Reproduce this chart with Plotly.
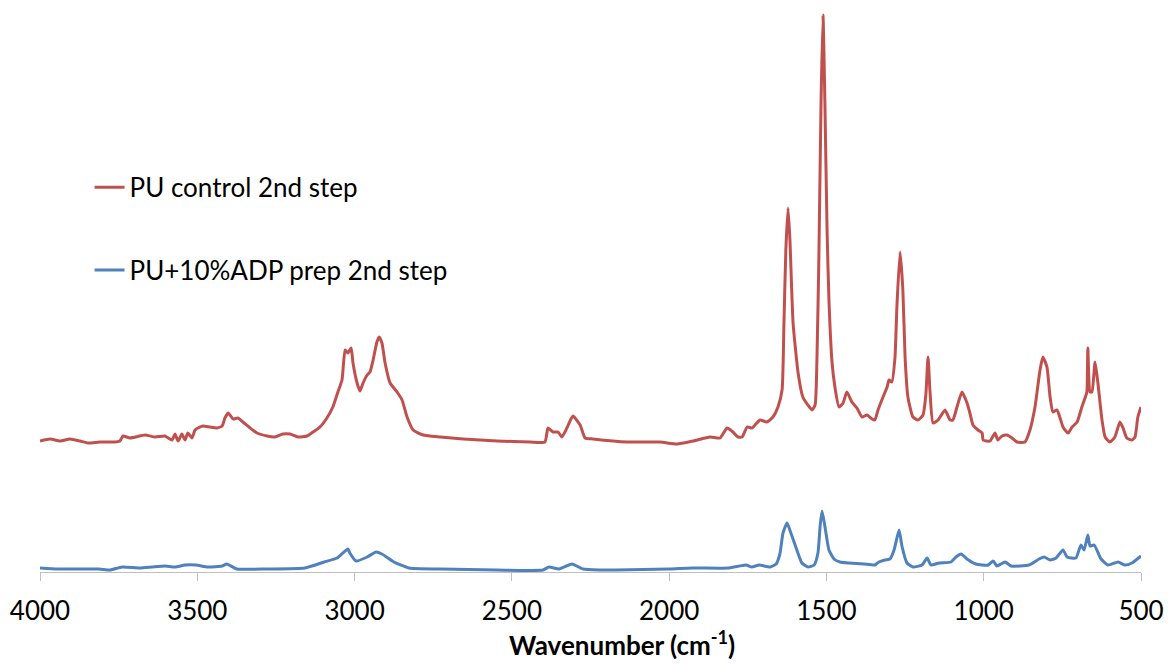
import plotly.graph_objects as go

# Wavenumber (cm-1) and absorbance
red_wn = [4000, 3968, 3936, 3905, 3873, 3847, 3809, 3762, 3746, 3736, 3714, 3666, 3634, 3603,
          3580, 3571, 3561, 3549, 3539, 3530, 3517, 3507, 3498, 3482, 3460, 3437, 3421, 3412,
          3402, 3386, 3371, 3355, 3332, 3310, 3278, 3253, 3228, 3205, 3180, 3151, 3132, 3110,
          3088, 3069, 3053, 3040, 3030, 3021, 3011, 3005, 2992, 2983, 2973, 2960, 2951, 2941,
          2929, 2922, 2913, 2903, 2887, 2865, 2849, 2833, 2814, 2782, 2728, 2655, 2547, 2442,
          2395, 2385, 2369, 2353, 2341, 2325, 2306, 2283, 2267, 2242, 2134, 2029, 1975, 1924,
          1870, 1838, 1816, 1797, 1781, 1768, 1752, 1737, 1727, 1711, 1689, 1670, 1654, 1641,
          1635, 1629, 1622, 1616, 1606, 1590, 1575, 1559, 1546, 1536, 1530, 1524, 1517, 1511,
          1505, 1498, 1492, 1482, 1473, 1460, 1447, 1435, 1419, 1403, 1387, 1371, 1355, 1346,
          1336, 1320, 1307, 1301, 1292, 1282, 1276, 1266, 1257, 1250, 1241, 1225, 1209, 1193,
          1184, 1177, 1171, 1161, 1145, 1123, 1107, 1098, 1085, 1069, 1053, 1044, 1034, 1018,
          1005, 1002, 980, 964, 955, 942, 926, 910, 894, 869, 853, 837, 821, 812, 799, 789,
          780, 767, 748, 732, 719, 703, 688, 678, 672, 669, 662, 656, 646, 637, 624, 614, 599,
          583, 567, 557, 545, 529, 519, 510, 500]
red_abs = [1.31, 1.33, 1.31, 1.33, 1.31, 1.29, 1.30, 1.30, 1.31, 1.36, 1.34, 1.37, 1.35, 1.36,
           1.32, 1.38, 1.31, 1.38, 1.32, 1.39, 1.34, 1.42, 1.44, 1.46, 1.45, 1.44, 1.46, 1.54,
           1.59, 1.53, 1.54, 1.50, 1.44, 1.39, 1.36, 1.35, 1.38, 1.38, 1.35, 1.36, 1.40, 1.45,
           1.54, 1.65, 1.80, 1.92, 2.22, 2.19, 2.24, 2.09, 1.89, 1.81, 1.89, 1.97, 2.00, 2.12,
           2.30, 2.35, 2.29, 2.09, 1.89, 1.80, 1.72, 1.55, 1.42, 1.37, 1.35, 1.33, 1.31, 1.30,
           1.30, 1.44, 1.40, 1.40, 1.35, 1.44, 1.56, 1.47, 1.34, 1.33, 1.30, 1.30, 1.28, 1.31,
           1.35, 1.34, 1.44, 1.40, 1.35, 1.35, 1.45, 1.44, 1.47, 1.52, 1.50, 1.55, 1.65, 1.82,
           2.49, 3.22, 3.64, 3.32, 2.49, 1.99, 1.75, 1.67, 1.62, 1.67, 2.15, 3.15, 4.72, 5.57,
           4.72, 3.42, 2.72, 2.09, 1.85, 1.65, 1.69, 1.80, 1.70, 1.64, 1.55, 1.57, 1.53, 1.52,
           1.62, 1.75, 1.85, 1.92, 1.90, 2.15, 2.65, 3.20, 2.82, 2.15, 1.75, 1.55, 1.52, 1.57,
           1.77, 2.15, 1.82, 1.49, 1.52, 1.62, 1.52, 1.52, 1.65, 1.80, 1.69, 1.59, 1.47, 1.42,
           1.39, 1.32, 1.31, 1.39, 1.32, 1.36, 1.37, 1.34, 1.30, 1.30, 1.42, 1.65, 2.02, 2.15,
           2.05, 1.75, 1.60, 1.62, 1.45, 1.39, 1.45, 1.50, 1.65, 1.74, 1.80, 2.24, 1.80, 1.80,
           2.10, 1.89, 1.52, 1.35, 1.30, 1.35, 1.50, 1.44, 1.34, 1.32, 1.35, 1.55, 1.65]

blue_wn = [4000, 3943, 3886, 3812, 3777, 3739, 3682, 3644, 3603, 3571, 3539, 3504, 3466, 3421,
           3406, 3374, 3278, 3158, 3097, 3056, 3030, 3021, 3015, 2995, 2960, 2932, 2913, 2875,
           2827, 2728, 2547, 2401, 2382, 2350, 2309, 2274, 2220, 2169, 2000, 1927, 1810, 1756,
           1737, 1714, 1679, 1660, 1648, 1638, 1625, 1613, 1594, 1578, 1559, 1539, 1527, 1520,
           1514, 1505, 1492, 1476, 1457, 1428, 1381, 1346, 1333, 1314, 1298, 1285, 1269, 1260,
           1244, 1225, 1196, 1180, 1168, 1142, 1104, 1088, 1072, 1053, 1025, 986, 970, 958, 932,
           913, 856, 824, 808, 789, 770, 748, 735, 707, 691, 681, 669, 662, 649, 627, 605, 573,
           551, 529, 500]
blue_abs = [0.04, 0.03, 0.03, 0.03, 0.02, 0.05, 0.04, 0.05, 0.06, 0.05, 0.07, 0.07, 0.05, 0.06,
            0.08, 0.03, 0.03, 0.04, 0.10, 0.14, 0.21, 0.23, 0.19, 0.11, 0.15, 0.20, 0.18, 0.10,
            0.04, 0.03, 0.02, 0.02, 0.05, 0.03, 0.08, 0.03, 0.02, 0.02, 0.03, 0.04, 0.04, 0.07,
            0.05, 0.07, 0.05, 0.08, 0.18, 0.39, 0.49, 0.39, 0.22, 0.09, 0.05, 0.07, 0.19, 0.46,
            0.61, 0.46, 0.22, 0.13, 0.10, 0.09, 0.08, 0.07, 0.10, 0.12, 0.13, 0.22, 0.42, 0.26,
            0.09, 0.05, 0.07, 0.14, 0.07, 0.09, 0.10, 0.15, 0.18, 0.13, 0.08, 0.07, 0.11, 0.06,
            0.10, 0.06, 0.07, 0.13, 0.15, 0.12, 0.14, 0.22, 0.15, 0.14, 0.27, 0.22, 0.37, 0.26,
            0.27, 0.13, 0.07, 0.10, 0.07, 0.09, 0.16]

x_ticks = [4000, 3500, 3000, 2500, 2000, 1500, 1000, 500]
series_names = ["PU control 2nd step", "PU+10%ADP prep 2nd step"]

FONT = "Lato, 'Open Sans', sans-serif"

fig = go.Figure()
fig.add_trace(go.Scatter(x=red_wn, y=red_abs, mode="lines", name=series_names[0],
                         line=dict(color="#C0504D", width=3, shape="spline", smoothing=0.5),
                         legendgroup="a"))
fig.add_trace(go.Scatter(x=blue_wn, y=blue_abs, mode="lines", name=series_names[1],
                         line=dict(color="#4F81BD", width=3, shape="spline", smoothing=0.5),
                         legendgroup="b"))

fig.update_layout(
    width=1168, height=664,
    margin=dict(l=40, r=27, t=5, b=92),
    plot_bgcolor="white", paper_bgcolor="white",
    font=dict(family=FONT, size=26, color="#000000"),
    showlegend=True,
    legend=dict(x=0.045, y=0.72, xanchor="left", yanchor="top",
                font=dict(size=26), tracegroupgap=46, bgcolor="rgba(0,0,0,0)",
                itemwidth=30),
    xaxis=dict(range=[4000, 500], tickvals=x_ticks, ticktext=[str(v) for v in x_ticks],
               showgrid=False, zeroline=False, showline=True, linecolor="#BFBFBF",
               linewidth=1, ticks="outside", ticklen=8, tickcolor="#BFBFBF",
               ticklabelstandoff=8,
               tickfont=dict(size=26, color="#000000")),
    yaxis=dict(range=[0, 5.67], visible=False, showgrid=False, zeroline=False),
)

fig.add_annotation(text="<b>Wavenumber (cm<sup>-1</sup>)</b>", xref="paper", yref="paper",
                   x=0.5286, y=-0.126, xanchor="center", yanchor="middle",
                   showarrow=False, borderpad=0, font=dict(size=26, color="#000000"))

fig.write_html("out.html")
